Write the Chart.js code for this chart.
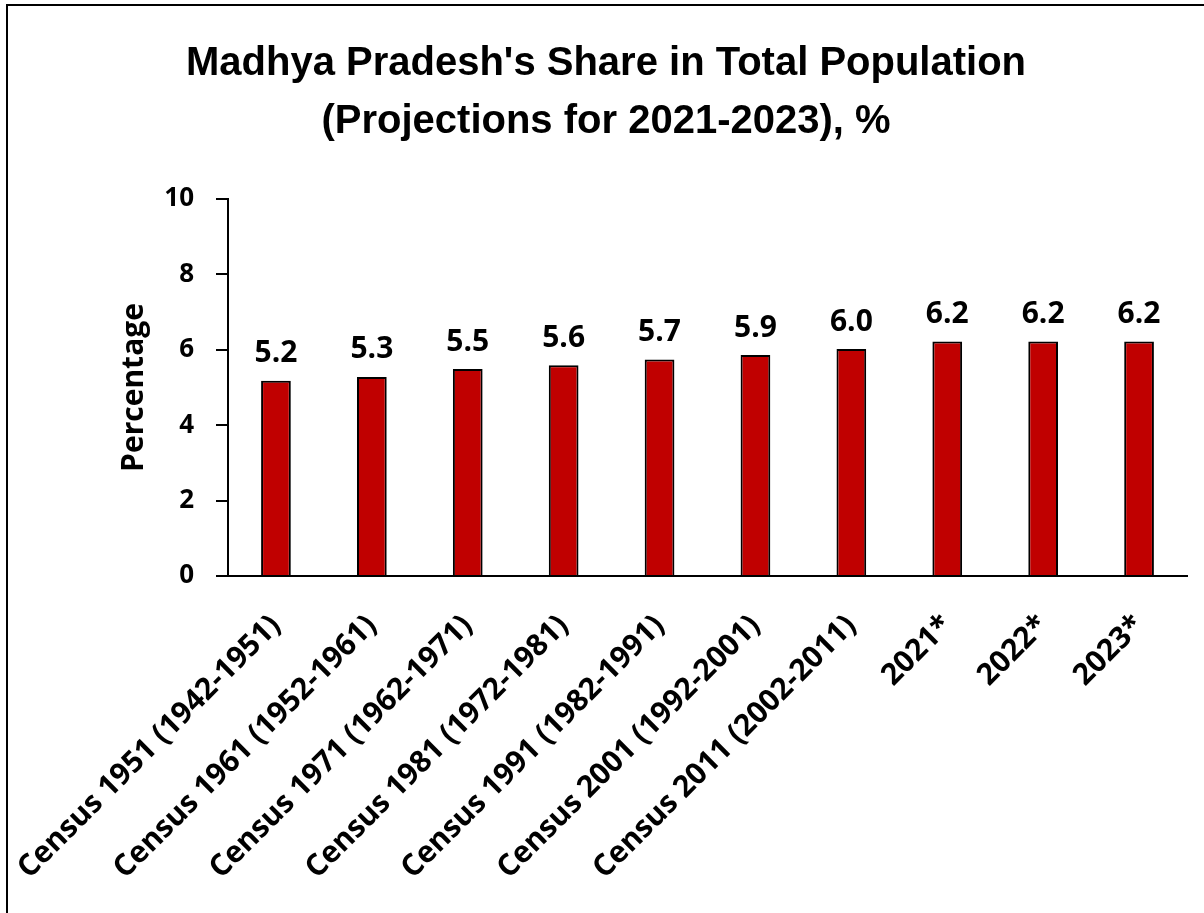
<!DOCTYPE html>
<html>
<head>
<meta charset="utf-8">
<title>Madhya Pradesh's Share in Total Population</title>
<script src="https://cdn.jsdelivr.net/npm/chart.js@4/dist/chart.umd.min.js"></script>
<style>
    html, body { margin: 0; padding: 0; background: #fff; overflow: hidden; }
    #wrap { position: relative; width: 1204px; height: 913px; }
    #frame {
        position: absolute; left: 6px; top: 4px;
        width: 1400px; height: 1100px;
        border: 2px solid #000; pointer-events: none;
    }
</style>
</head>
<body>
<div id="wrap">
    <canvas id="shareChart" width="1204" height="913"></canvas>
    <div id="frame"></div>
</div>
<script>
// Données
const periods = [
    'Census 1951 (1942-1951)',
    'Census 1961 (1952-1961)',
    'Census 1971 (1962-1971)',
    'Census 1981 (1972-1981)',
    'Census 1991 (1982-1991)',
    'Census 2001 (1992-2001)',
    'Census 2011 (2002-2011)',
    '2021*',
    '2022*',
    '2023*'
];
const shareValues = [5.18, 5.28, 5.49, 5.59, 5.74, 5.86, 6.02, 6.22, 6.22, 6.22];
const yTicks = [0, 2, 4, 6, 8, 10];

const LABEL_FONT = "'Open Sans', 'DejaVu Sans', sans-serif";

/**
 * Étiquettes de valeur au-dessus des barres
 */
const valueLabels = {
    id: 'valueLabels',
    afterDatasetsDraw(chart) {
        const ctx = chart.ctx;
        const meta = chart.getDatasetMeta(0);
        ctx.save();
        ctx.font = `bold 30px ${LABEL_FONT}`;
        ctx.fillStyle = '#000';
        ctx.textAlign = 'center';
        ctx.textBaseline = 'bottom';
        meta.data.forEach((bar, i) => {
            ctx.fillText(shareValues[i].toFixed(1), bar.x, bar.y - 12);
        });
        ctx.restore();
    }
};

new Chart(document.getElementById('shareChart'), {
    type: 'bar',
    data: {
        labels: periods,
        datasets: [{
            data: shareValues,
            backgroundColor: '#C00000',
            borderColor: '#000',
            borderWidth: 2,
            categoryPercentage: 1,
            barPercentage: 0.31
        }]
    },
    options: {
        responsive: false,
        animation: false,
        layout: {
            padding: { top: 5, left: 25, right: 17, bottom: 0 }
        },
        plugins: {
            legend: { display: false },
            tooltip: { enabled: false },
            title: {
                display: true,
                text: ["Madhya Pradesh's Share in Total Population", '(Projections for 2021-2023), %'],
                color: '#000',
                font: { family: "'Liberation Sans', sans-serif", size: 40, weight: 'bold', lineHeight: 1.45 },
                padding: { top: 30, bottom: 48 }
            }
        },
        scales: {
            x: {
                grid: {
                    display: true,
                    drawOnChartArea: false,
                    drawTicks: false,
                    color: '#000'
                },
                border: { color: '#000', width: 2 },
                ticks: {
                    color: '#000',
                    autoSkip: false,
                    minRotation: 45,
                    maxRotation: 45,
                    padding: 32,
                    font: { family: LABEL_FONT, size: 30, weight: 'bold' }
                },
                afterFit(scale) {
                    // les étiquettes inclinées débordent à gauche, comme sur l'original
                    scale.height = 337;
                    scale.paddingLeft = 0;
                    scale.paddingRight = 0;
                }
            },
            y: {
                min: 0,
                max: 10,
                afterBuildTicks(scale) { scale.ticks = yTicks.map(v => ({ value: v })); },
                grid: {
                    drawOnChartArea: false,
                    drawTicks: true,
                    tickLength: 12,
                    color: '#000',
                    lineWidth: 2
                },
                border: { color: '#000', width: 2 },
                ticks: {
                    color: '#000',
                    padding: 22,
                    font: { family: LABEL_FONT, size: 26, weight: 'bold' }
                },
                title: {
                    display: true,
                    text: 'Percentage',
                    color: '#000',
                    padding: { top: 91, bottom: 0 },
                    font: { family: LABEL_FONT, size: 30, weight: 'bold' }
                },
                afterFit(scale) { scale.width = 203; }
            }
        }
    },
    plugins: [valueLabels]
});
</script>
</body>
</html>
